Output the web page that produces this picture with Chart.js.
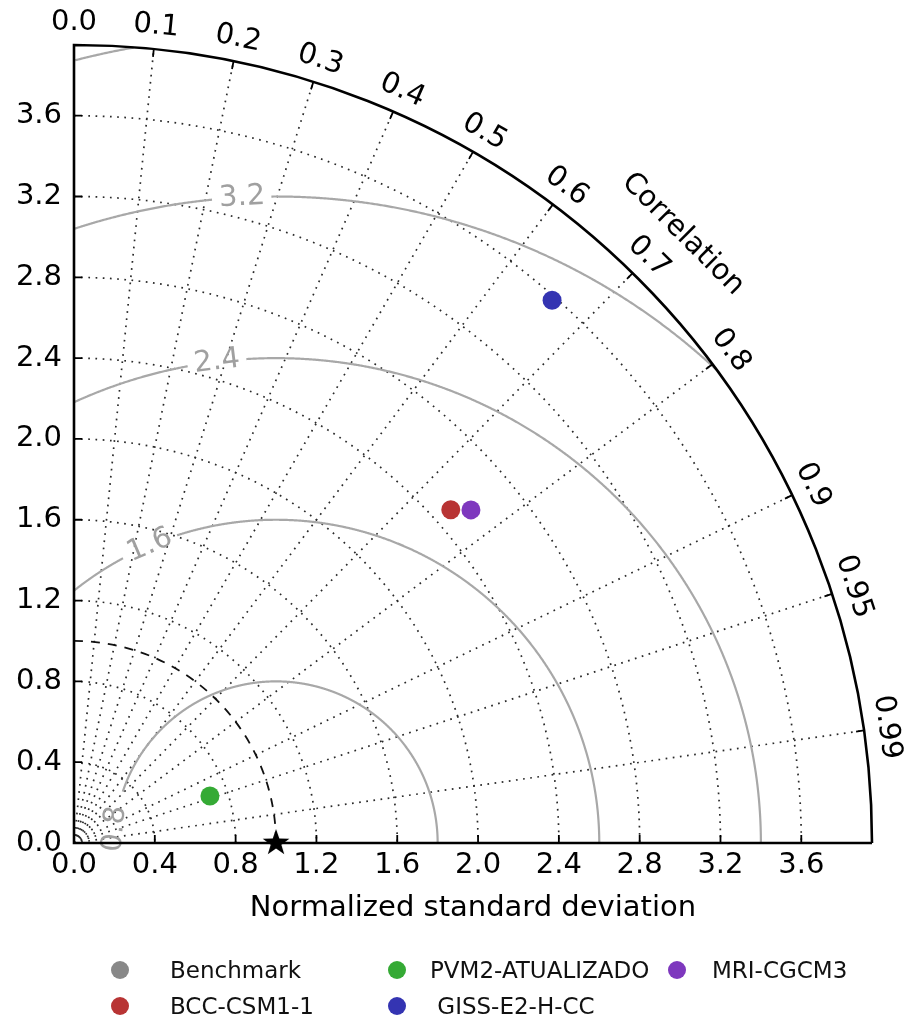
<!DOCTYPE html>
<html>
<head>
<meta charset="utf-8">
<title>Taylor diagram</title>
<script src="https://cdn.jsdelivr.net/npm/chart.js@4.4.1/dist/chart.umd.min.js"></script>
<style>
  body { margin: 0; background: #fff; }
  #wrap { position: relative; width: 907px; height: 1021px; }
  .legText { position: absolute; font-family: "DejaVu Sans", sans-serif; font-size: 23px; color: #111;
             line-height: 1; white-space: nowrap; transform: translateY(-50%); }
  .legDot { position: absolute; width: 18px; height: 18px; border-radius: 50%; transform: translate(-50%, -50%); }
</style>
</head>
<body>
<div id="wrap">
  <canvas id="taylor" width="907" height="1021"></canvas>
</div>
<script>
// values: normalized std dev and correlation per model
const models = ["BCC-CSM1-1", "PVM2-ATUALIZADO", "GISS-E2-H-CC", "MRI-CGCM3"];
const modelStd = [2.49, 0.712, 3.58, 2.565];
const modelCorr = [0.749, 0.945, 0.661, 0.766];
const modelColors = ["#b83434", "#35aa35", "#3434b2", "#7e38be"];

const refName = "Benchmark";
const refStd = 1.0;
const stdMax = 3.95;

const stdTicks = [0, 0.4, 0.8, 1.2, 1.6, 2.0, 2.4, 2.8, 3.2, 3.6];
const stdTickLabels = ["0.0", "0.4", "0.8", "1.2", "1.6", "2.0", "2.4", "2.8", "3.2", "3.6"];
const corrTicks = [0, 0.1, 0.2, 0.3, 0.4, 0.5, 0.6, 0.7, 0.8, 0.9, 0.95, 0.99];
const corrTickLabels = ["0.0", "0.1", "0.2", "0.3", "0.4", "0.5", "0.6", "0.7", "0.8", "0.9", "0.95", "0.99"];

// centred RMS difference contours
const rmsLevels = [0.8, 1.6, 2.4, 3.2, 4.0];
const rmsLabels = ["0.8", "1.6", "2.4", "3.2", ""];
const rmsLabelAngle = [175, 113, 97, 93, null]; // degrees round the reference point

// legend, filled column by column like the original
const legendNames = ["Benchmark", "BCC-CSM1-1", "PVM2-ATUALIZADO", " GISS-E2-H-CC", "MRI-CGCM3"];
const legendColors = ["#888888", "#b83434", "#35aa35", "#3434b2", "#7e38be"];

const FONT = '"DejaVu Sans", sans-serif';

function starMarker(r) {
  const c = document.createElement("canvas");
  c.width = c.height = 2 * r + 2;
  const g = c.getContext("2d");
  g.beginPath();
  for (let i = 0; i < 10; i++) {
    const a = -Math.PI / 2 + i * Math.PI / 5;
    const rr = i % 2 ? r * 0.4 : r;
    g.lineTo(r + 1 + rr * Math.cos(a), r + 1 + rr * Math.sin(a));
  }
  g.closePath();
  g.fillStyle = "#000";
  g.fill();
  return c;
}

const taylorGrid = {
  id: "taylorGrid",
  beforeDatasetsDraw(chart) {
    const ctx = chart.ctx, xs = chart.scales.x, ys = chart.scales.y;
    const ox = xs.getPixelForValue(0), oy = ys.getPixelForValue(0);
    const k = xs.getPixelForValue(1) - ox;
    const R = stdMax * k;
    ctx.save();

    // dotted grid: std arcs and correlation rays
    ctx.strokeStyle = "#2a2a2a";
    ctx.lineWidth = 1.7;
    ctx.setLineDash([1.7, 5.5]);
    stdTicks.forEach(s => {
      if (s <= 0) return;
      ctx.beginPath();
      ctx.arc(ox, oy, s * k, -Math.PI / 2, 0);
      ctx.stroke();
    });
    corrTicks.forEach(c => {
      const t = Math.acos(c);
      ctx.beginPath();
      ctx.moveTo(ox, oy);
      ctx.lineTo(ox + R * Math.cos(t), oy - R * Math.sin(t));
      ctx.stroke();
    });

    // RMS contours round the reference point
    ctx.setLineDash([]);
    ctx.strokeStyle = "#a8a8a8";
    ctx.lineWidth = 2.2;
    ctx.font = "29px " + FONT;
    const cx = xs.getPixelForValue(refStd);
    const rInner = 0.35;
    rmsLevels.forEach((L, i) => {
      const rp = L * k;
      const lab = rmsLabels[i];
      let a0 = null, gap = 0;
      if (lab) {
        a0 = rmsLabelAngle[i] * Math.PI / 180;
        gap = (ctx.measureText(lab).width / 2 + 6) / rp;
      }
      let pen = false;
      ctx.beginPath();
      for (let a = 0; a <= Math.PI; a += 0.002) {
        const X = refStd + L * Math.cos(a), Y = L * Math.sin(a);
        const r = Math.hypot(X, Y);
        const ok = X >= 0 && r <= stdMax && r >= rInner && !(a0 !== null && Math.abs(a - a0) < gap);
        const sx = cx + rp * Math.cos(a), sy = oy - rp * Math.sin(a);
        if (ok) { if (pen) ctx.lineTo(sx, sy); else ctx.moveTo(sx, sy); pen = true; }
        else pen = false;
      }
      ctx.stroke();
      if (lab) {
        ctx.save();
        ctx.translate(cx + rp * Math.cos(a0), oy - rp * Math.sin(a0));
        let ang = Math.atan2(-Math.cos(a0), -Math.sin(a0));
        if (ang > Math.PI / 2) ang -= Math.PI;
        if (ang < -Math.PI / 2) ang += Math.PI;
        ctx.rotate(ang);
        ctx.fillStyle = "#a0a0a0";
        ctx.textAlign = "center";
        ctx.textBaseline = "middle";
        ctx.fillText(lab, 0, 0);
        ctx.restore();
      }
    });

    // reference std dev (dashed)
    ctx.strokeStyle = "#111";
    ctx.lineWidth = 1.8;
    ctx.setLineDash([9, 8]);
    ctx.beginPath();
    ctx.arc(ox, oy, refStd * k, -Math.PI / 2, 0);
    ctx.stroke();

    // frame
    ctx.setLineDash([]);
    ctx.strokeStyle = "#000";
    ctx.lineWidth = 2.6;
    ctx.beginPath();
    ctx.moveTo(ox + R, oy);
    ctx.lineTo(ox, oy);
    ctx.lineTo(ox, oy - R);
    ctx.arc(ox, oy, R, -Math.PI / 2, 0);
    ctx.stroke();

    // ticks
    ctx.lineWidth = 1.8;
    ctx.beginPath();
    stdTicks.forEach(s => {
      if (s <= 0) return;
      const p = xs.getPixelForValue(s), q = ys.getPixelForValue(s);
      ctx.moveTo(p, oy); ctx.lineTo(p, oy - 8);
      ctx.moveTo(ox, q); ctx.lineTo(ox + 8, q);
    });
    corrTicks.forEach(c => {
      const t = Math.acos(c);
      ctx.moveTo(ox + R * Math.cos(t), oy - R * Math.sin(t));
      ctx.lineTo(ox + (R - 8) * Math.cos(t), oy - (R - 8) * Math.sin(t));
    });
    ctx.stroke();

    // correlation labels
    ctx.fillStyle = "#000";
    ctx.font = "29px " + FONT;
    ctx.textAlign = "center";
    ctx.textBaseline = "middle";
    corrTicks.forEach((c, i) => {
      const t = Math.acos(c);
      ctx.save();
      ctx.translate(ox + (R + 23) * Math.cos(t), oy - (R + 23) * Math.sin(t));
      ctx.rotate(Math.PI / 2 - t);
      ctx.fillText(corrTickLabels[i], 0, 0);
      ctx.restore();
    });
    ctx.save();
    ctx.translate(ox + (R + 63) * Math.cos(Math.PI / 4), oy - (R + 63) * Math.sin(Math.PI / 4));
    ctx.rotate(Math.PI / 4);
    ctx.fillText("Correlation", 0, 0);
    ctx.restore();

    // x title
    ctx.font = "29px " + FONT;
    ctx.fillText("Normalized standard deviation", (xs.left + xs.right) / 2, 908);

    ctx.restore();
  }
};

const datasets = [{
  label: refName,
  data: [{ x: refStd, y: 0 }],
  pointStyle: starMarker(14),
  clip: false
}];
models.forEach((m, i) => {
  const s = modelStd[i], c = modelCorr[i];
  datasets.push({
    label: m,
    data: [{ x: s * c, y: s * Math.sqrt(1 - c * c) }],
    backgroundColor: modelColors[i],
    borderWidth: 0,
    pointRadius: 9.5,
    clip: false
  });
});

const tickFont = { family: FONT, size: 29 };

new Chart(document.getElementById("taylor"), {
  type: "scatter",
  data: { datasets: datasets },
  options: {
    responsive: false,
    animation: false,
    devicePixelRatio: 1,
    layout: { padding: { top: 45, right: 35, left: 0, bottom: 0 } },
    plugins: { legend: { display: false }, tooltip: { enabled: false } },
    scales: {
      x: {
        type: "linear", min: 0, max: stdMax,
        grid: { display: false, drawTicks: false }, border: { display: false },
        afterBuildTicks: s => { s.ticks = stdTicks.map(v => ({ value: v })); },
        afterFit: s => { s.height = 178; },
        ticks: { padding: 5, color: "#000", font: tickFont, maxRotation: 0, autoSkip: false,
                 callback: (v, i) => stdTickLabels[i] }
      },
      y: {
        type: "linear", min: 0, max: stdMax,
        grid: { display: false, drawTicks: false }, border: { display: false },
        afterBuildTicks: s => { s.ticks = stdTicks.map(v => ({ value: v })); },
        afterFit: s => { s.width = 74; },
        ticks: { padding: 12, color: "#000", font: tickFont, autoSkip: false,
                 callback: (v, i) => stdTickLabels[i] }
      }
    }
  },
  plugins: [taylorGrid]
});

// legend (two rows, filled by column)
const wrap = document.getElementById("wrap");
const legDotX = [120, 120, 397, 397, 677];
const legTextX = [170, 170, 430, 430, 712];
const legRowY = [970, 1006, 970, 1006, 970];
legendNames.forEach((name, i) => {
  const dot = document.createElement("div");
  dot.className = "legDot";
  dot.style.left = legDotX[i] + "px";
  dot.style.top = legRowY[i] + "px";
  dot.style.background = legendColors[i];
  wrap.appendChild(dot);
  const txt = document.createElement("div");
  txt.className = "legText";
  txt.style.left = legTextX[i] + "px";
  txt.style.top = legRowY[i] + "px";
  txt.style.whiteSpace = "pre";
  txt.textContent = name;
  wrap.appendChild(txt);
});
</script>
</body>
</html>
